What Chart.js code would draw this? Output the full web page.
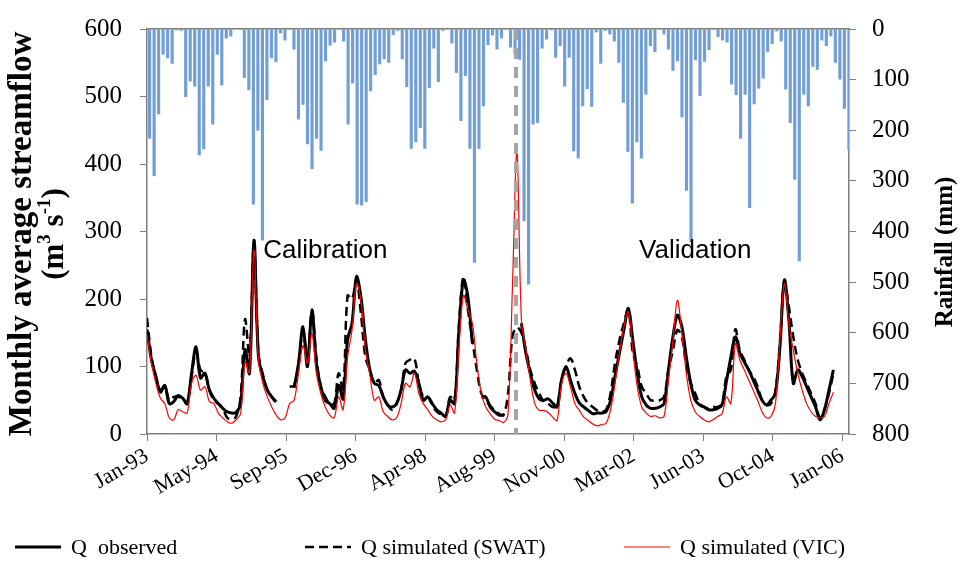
<!DOCTYPE html>
<html>
<head>
<meta charset="utf-8">
<script src="https://cdn.jsdelivr.net/npm/chart.js@4.4.0/dist/chart.umd.min.js"></script>
<style>
  html, body { margin: 0; padding: 0; background: #fff; }
</style>
</head>
<body>
<canvas id="chart" width="960" height="576"></canvas>
<script>
'use strict';

// Monthly rainfall (mm), bars hang from the top (reversed right axis)
const rainfall = [
    216, 290, 168, 50, 57, 68, 2, 3, 134, 103, 113, 249, 237, 113, 188, 50, 111, 18, 14, 0, 0, 96, 120, 346, 200,
    417, 140, 57, 65, 8, 22, 0, 40, 178, 149, 227, 276, 216, 240, 63, 32, 26, 0, 24, 188, 107, 346, 348, 341, 122,
    90, 69, 59, 66, 11, 3, 59, 114, 236, 223, 195, 236, 116, 38, 104, 3, 0, 28, 86, 181, 92, 236, 461, 236, 152, 31,
    12, 40, 18, 0, 36, 48, 60, 379, 504, 188, 185, 38, 20, 2, 56, 33, 113, 56, 241, 255, 152, 118, 153, 6, 68,
    3, 10, 24, 66, 145, 242, 344, 223, 255, 129, 33, 45, 0, 10, 40, 82, 63, 174, 319, 421, 61, 132, 64, 41, 0,
    15, 22, 26, 109, 130, 216, 129, 353, 148, 117, 97, 45, 29, 4, 24, 119, 185, 297, 458, 129, 152, 74, 80, 22, 33, 14, 66, 99, 157, 239
];

// Monthly streamflow (m3/s), month 0 = Jan-93
const observed = [
    155, 110, 85, 62, 72, 45, 48, 57, 53, 45, 90, 129, 83, 90, 65, 53, 45, 38, 33, 31, 32, 45, 125, 90, 287, 115,
    85, 65, 55, 48, null, null, null, 68, 105, 159, 100, 184, 105, 70, 50, 45, 38, 72, 52, 140, 164, 233, 203, 140, 95,
    75, 72, 55, 43, 40, 45, 65, 95, 90, 93, 75, 50, 55, 45, 36, 31, 26, 50, 45, 154, 228, 203, 134, null, 55,
    55, 40, 33, 28, 28, null, null, null, 164, 120, 90, 65, 52, 50, 52, 46, 40, 80, 100, 80, 60, 46, 40, 35, 30,
    31, 31, 33, 50, 85, 120, 154, 186, 139, 90, 55, 43, 38, 38, 40, 45, 95, 144, 176, 159, 114, 75, 50, 43, 40,
    36, 36, 38, 43, 78, 114, 144, 120, 107, 95, 80, 65, 50, 43, 50, 60, 129, 228, 169, 75, 95, 85, 70, 55, 40, 21, 36, 65, 95
];

const swat = [
    172, 115, 85, 65, 70, 50, 55, 55, 53, 45, 85, 122, 95, 90, 65, 50, 45, 38, 24, 22, 26, 55, 170, 115, 282, 120,
    88, 65, 55, 45, null, null, 70, 72, 105, 154, 110, 182, 114, 70, 55, 45, 45, 90, 65, 205, 200, 228, 178, 114, 95,
    75, 80, 55, 43, 36, 45, 65, 105, 110, 112, 75, 55, 55, 43, 33, 29, 26, 55, 50, 164, 233, 184, 139, 95, 60,
    50, 42, 35, 30, 28, 60, 145, 158, 150, 125, 95, 75, 60, 48, 45, 40, 42, 80, 100, 112, 95, 70, 55, 45, 40,
    35, 33, 36, 60, 105, 139, 164, 184, 120, 100, 70, 60, 50, 50, 50, 55, 95, 124, 154, 144, 100, 75, 60, 45, 40,
    38, 40, 40, 45, 85, 95, 155, 124, 110, 95, 85, 70, 50, 43, 45, 65, 135, 226, 189, 144, 110, 90, 75, 60, 45, 24, 36, 60, 90
];

const vic = [
    147, 105, 75, 53, 45, 24, 21, 36, 33, 31, 75, 87, 65, 70, 48, 45, 31, 24, 18, 16, 21, 30, 107, 90, 273, 110,
    75, 55, 40, 28, 21, 24, 45, 50, 90, 131, 105, 149, 90, 60, 40, 28, 24, 55, 36, 114, 154, 223, 198, 124, 88,
    50, 55, 33, 26, 21, 24, 45, 75, 70, 90, 60, 45, 36, 26, 21, 18, 21, 43, 31, 129, 205, 184, 164, 105, 60,
    40, 30, 22, 20, 17, 30, 220, 418, 170, 125, 80, 45, 35, 35, 32, 25, 20, 74, 90, 70, 45, 35, 25, 20, 15,
    12, 14, 16, 36, 75, 120, 159, 181, 124, 70, 40, 31, 26, 27, 24, 26, 80, 139, 198, 149, 90, 50, 33, 26, 21,
    18, 21, 26, 30, 55, 45, 134, 110, 95, 80, 65, 50, 33, 24, 26, 45, 139, 223, 164, 124, 90, 65, 45, 33, 26, 24, 26, 45, 62
];

// date ticks (months after Jan-93) and their labels
const tickMonths = [0, 15.6, 31.2, 46.8, 62.4, 78, 93.6, 109.2, 124.8, 140.4, 156];
const tickLabels = ['Jan-93', 'May-94', 'Sep-95', 'Dec-96', 'Apr-98', 'Aug-99', 'Nov-00', 'Mar-02', 'Jun-03', 'Oct-04', 'Jan-06'];

// calibration / validation split (months after Jan-93)
const splitMonth = 82.8;
const periods = ['Calibration', 'Validation'];

const SERIF = '"Liberation Serif", "Times New Roman", serif';
const SANS = '"Liberation Sans", Arial, sans-serif';
const AXIS_GREY = '#7f7f7f';

const toPoints = (arr) => arr.map((v, i) => ({ x: i, y: v }));

// fixed axis sizes so the plot area matches the original layout
const fixWidth = (w) => (s) => { s.width = w; s.paddingTop = 0; s.paddingBottom = 0; };
const fixHeight = (h) => (s) => { s.height = h; };

const extras = {
    id: 'extras',
    afterDatasetsDraw(chart) {
        const { ctx, chartArea, scales } = chart;
        const x = scales.x.getPixelForValue(splitMonth);
        ctx.save();
        ctx.strokeStyle = '#a5a5a5';
        ctx.lineWidth = 4;
        ctx.setLineDash([11, 8]);
        ctx.beginPath();
        ctx.moveTo(x, chartArea.top);
        ctx.lineTo(x, chartArea.bottom);
        ctx.stroke();
        ctx.restore();
    },
    afterDraw(chart) {
        const { ctx, scales } = chart;
        ctx.save();

        // period labels
        ctx.fillStyle = '#000';
        ctx.font = '26px ' + SANS;
        ctx.textAlign = 'center';
        ctx.textBaseline = 'middle';
        ctx.fillText(periods[0], scales.x.getPixelForValue(40), scales.y.getPixelForValue(272));
        ctx.fillText(periods[1], scales.x.getPixelForValue(123), scales.y.getPixelForValue(272));

        // left axis title, two lines
        ctx.save();
        ctx.translate(22, 234);
        ctx.rotate(-Math.PI / 2);
        ctx.font = 'bold 33px ' + SERIF;
        ctx.fillText('Monthly average streamflow', 0, 0);
        ctx.restore();

        ctx.save();
        ctx.translate(55, 234);
        ctx.rotate(-Math.PI / 2);
        const big = 'bold 31px ' + SERIF;
        const small = 'bold 19px ' + SERIF;
        const parts = [['(m', big, 0], ['3', small, -10], [' s', big, 0], ['-1', small, -10], [')', big, 0]];
        let total = 0;
        parts.forEach(([t, f]) => { ctx.font = f; total += ctx.measureText(t).width; });
        let cx = -total / 2;
        ctx.textAlign = 'left';
        parts.forEach(([t, f, dy]) => {
            ctx.font = f;
            ctx.fillText(t, cx, dy);
            cx += ctx.measureText(t).width;
        });
        ctx.restore();

        // right axis title
        ctx.save();
        ctx.translate(946, 252);
        ctx.rotate(-Math.PI / 2);
        ctx.textAlign = 'center';
        ctx.font = 'bold 25px ' + SERIF;
        ctx.fillText('Rainfall (mm)', 0, 0);
        ctx.restore();

        // legend built from the line datasets
        const starts = [15, 305, 624];
        const lines = chart.data.datasets.filter((d) => d.type === 'line');
        ctx.font = '22px ' + SERIF;
        ctx.textAlign = 'left';
        ctx.textBaseline = 'middle';
        lines.forEach((d, i) => {
            const x0 = starts[i];
            const y = 547;
            ctx.save();
            ctx.strokeStyle = d.borderColor;
            ctx.lineWidth = d.borderWidth;
            ctx.setLineDash(d.borderDash || []);
            ctx.beginPath();
            ctx.moveTo(x0, y);
            ctx.lineTo(x0 + 46, y);
            ctx.stroke();
            ctx.restore();
            ctx.fillText(d.label, x0 + 56, y + 1);
        });

        ctx.restore();
    }
};

new Chart(document.getElementById('chart'), {
    type: 'bar',
    data: {
        datasets: [
            {
                type: 'line',
                label: 'Q  observed',
                data: toPoints(observed),
                xAxisID: 'x',
                yAxisID: 'y',
                borderColor: '#000000',
                borderWidth: 3,
                pointRadius: 0,
                tension: 0.35,
                spanGaps: false,
                order: 1
            },
            {
                type: 'line',
                label: 'Q simulated (SWAT)',
                data: toPoints(swat),
                xAxisID: 'x',
                yAxisID: 'y',
                borderColor: '#000000',
                borderWidth: 2.5,
                borderDash: [9, 5],
                pointRadius: 0,
                tension: 0.35,
                spanGaps: false,
                order: 2
            },
            {
                type: 'line',
                label: 'Q simulated (VIC)',
                data: toPoints(vic),
                xAxisID: 'x',
                yAxisID: 'y',
                borderColor: '#ff0000',
                borderWidth: 1.2,
                pointRadius: 0,
                tension: 0.35,
                spanGaps: false,
                order: 0
            },
            {
                type: 'bar',
                label: 'Rainfall',
                data: toPoints(rainfall),
                xAxisID: 'xr',
                yAxisID: 'yr',
                backgroundColor: '#729ed6',
                borderWidth: 0,
                barThickness: 2.5,
                order: 3
            }
        ]
    },
    options: {
        responsive: false,
        animation: false,
        events: [],
        layout: { padding: 0 },
        plugins: {
            legend: { display: false },
            tooltip: { enabled: false }
        },
        scales: {
            x: {
                type: 'linear',
                position: 'bottom',
                min: 0,
                max: 157.5,
                offset: false,
                afterBuildTicks: (s) => { s.ticks = tickMonths.map((v) => ({ value: v })); },
                afterFit: fixHeight(142),
                ticks: {
                    autoSkip: false,
                    minRotation: 30,
                    maxRotation: 30,
                    padding: 2,
                    color: '#000',
                    font: { family: SERIF, size: 22 },
                    callback: (v, i) => tickLabels[i]
                },
                grid: { display: true, drawOnChartArea: false, drawTicks: true, tickLength: 7, color: AXIS_GREY, offset: false },
                border: { display: true, color: AXIS_GREY, width: 1.5 }
            },
            xr: {
                type: 'linear',
                position: 'top',
                min: -0.3,
                max: 155.3,
                offset: false,
                afterFit: fixHeight(29),
                ticks: { display: false },
                grid: { display: false, offset: false },
                border: { display: true, color: AXIS_GREY, width: 1.5 }
            },
            y: {
                position: 'left',
                min: 0,
                max: 600,
                afterFit: fixWidth(147),
                ticks: {
                    stepSize: 100,
                    padding: 18,
                    color: '#000',
                    font: { family: SERIF, size: 25 }
                },
                grid: { display: true, drawOnChartArea: false, drawTicks: true, tickLength: 7, color: AXIS_GREY },
                border: { display: true, color: AXIS_GREY, width: 1.5 }
            },
            yr: {
                position: 'right',
                reverse: true,
                min: 0,
                max: 800,
                afterFit: fixWidth(111),
                ticks: {
                    stepSize: 100,
                    padding: 16,
                    color: '#000',
                    font: { family: SERIF, size: 25 }
                },
                grid: { display: true, drawOnChartArea: false, drawTicks: true, tickLength: 7, color: AXIS_GREY },
                border: { display: true, color: AXIS_GREY, width: 1.5 }
            }
        }
    },
    plugins: [extras]
});
</script>
</body>
</html>
